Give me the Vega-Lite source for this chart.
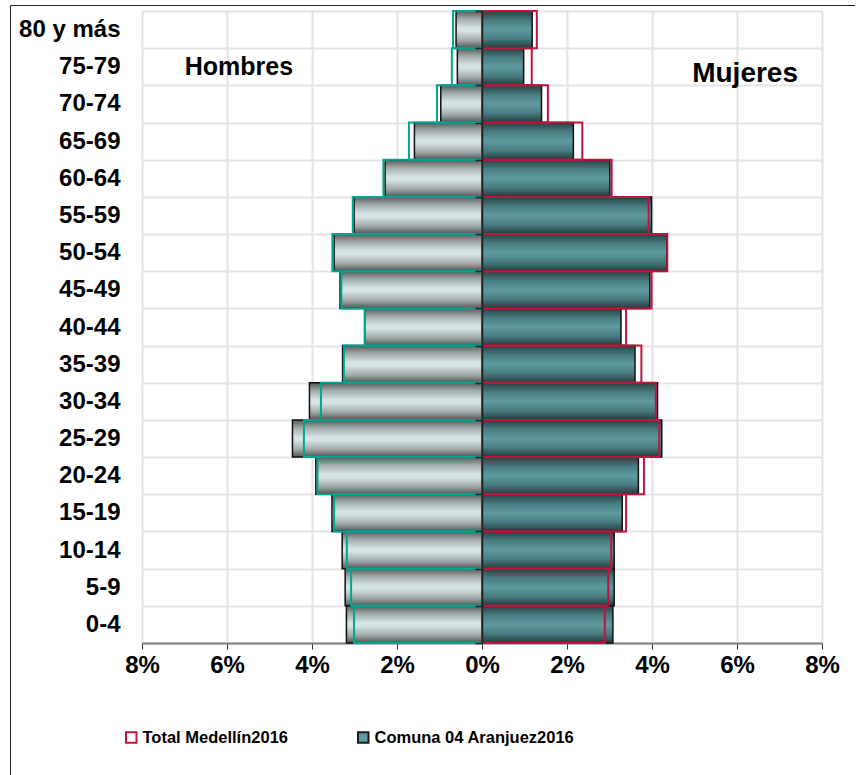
{
  "$schema": "https://vega.github.io/schema/vega-lite/v6.json",
  "width": 845,
  "height": 780,
  "autosize": {"type": "none"},
  "padding": {"left": 10, "top": 5, "right": 0, "bottom": 0},
  "background": "white",
  "config": {"view": {"stroke": "#222", "strokeWidth": 1}, "font": "Liberation Sans"},
  "datasets": {
    "pyr": [
      {"sexo": "Hombres", "serie": "Comuna 04 Aranjuez2016", "edad": "80 y más", "valor": -0.61},
      {"sexo": "Hombres", "serie": "Comuna 04 Aranjuez2016", "edad": "75-79", "valor": -0.58},
      {"sexo": "Hombres", "serie": "Comuna 04 Aranjuez2016", "edad": "70-74", "valor": -0.97},
      {"sexo": "Hombres", "serie": "Comuna 04 Aranjuez2016", "edad": "65-69", "valor": -1.59},
      {"sexo": "Hombres", "serie": "Comuna 04 Aranjuez2016", "edad": "60-64", "valor": -2.28},
      {"sexo": "Hombres", "serie": "Comuna 04 Aranjuez2016", "edad": "55-59", "valor": -3.01},
      {"sexo": "Hombres", "serie": "Comuna 04 Aranjuez2016", "edad": "50-54", "valor": -3.48},
      {"sexo": "Hombres", "serie": "Comuna 04 Aranjuez2016", "edad": "45-49", "valor": -3.34},
      {"sexo": "Hombres", "serie": "Comuna 04 Aranjuez2016", "edad": "40-44", "valor": -2.76},
      {"sexo": "Hombres", "serie": "Comuna 04 Aranjuez2016", "edad": "35-39", "valor": -3.28},
      {"sexo": "Hombres", "serie": "Comuna 04 Aranjuez2016", "edad": "30-34", "valor": -4.06},
      {"sexo": "Hombres", "serie": "Comuna 04 Aranjuez2016", "edad": "25-29", "valor": -4.46},
      {"sexo": "Hombres", "serie": "Comuna 04 Aranjuez2016", "edad": "20-24", "valor": -3.91},
      {"sexo": "Hombres", "serie": "Comuna 04 Aranjuez2016", "edad": "15-19", "valor": -3.53},
      {"sexo": "Hombres", "serie": "Comuna 04 Aranjuez2016", "edad": "10-14", "valor": -3.29},
      {"sexo": "Hombres", "serie": "Comuna 04 Aranjuez2016", "edad": "5-9", "valor": -3.22},
      {"sexo": "Hombres", "serie": "Comuna 04 Aranjuez2016", "edad": "0-4", "valor": -3.19},
      {"sexo": "Hombres", "serie": "Total Medellín2016", "edad": "80 y más", "valor": -0.68},
      {"sexo": "Hombres", "serie": "Total Medellín2016", "edad": "75-79", "valor": -0.71},
      {"sexo": "Hombres", "serie": "Total Medellín2016", "edad": "70-74", "valor": -1.06},
      {"sexo": "Hombres", "serie": "Total Medellín2016", "edad": "65-69", "valor": -1.72},
      {"sexo": "Hombres", "serie": "Total Medellín2016", "edad": "60-64", "valor": -2.32},
      {"sexo": "Hombres", "serie": "Total Medellín2016", "edad": "55-59", "valor": -3.04},
      {"sexo": "Hombres", "serie": "Total Medellín2016", "edad": "50-54", "valor": -3.52},
      {"sexo": "Hombres", "serie": "Total Medellín2016", "edad": "45-49", "valor": -3.31},
      {"sexo": "Hombres", "serie": "Total Medellín2016", "edad": "40-44", "valor": -2.76},
      {"sexo": "Hombres", "serie": "Total Medellín2016", "edad": "35-39", "valor": -3.25},
      {"sexo": "Hombres", "serie": "Total Medellín2016", "edad": "30-34", "valor": -3.79},
      {"sexo": "Hombres", "serie": "Total Medellín2016", "edad": "25-29", "valor": -4.19},
      {"sexo": "Hombres", "serie": "Total Medellín2016", "edad": "20-24", "valor": -3.87},
      {"sexo": "Hombres", "serie": "Total Medellín2016", "edad": "15-19", "valor": -3.48},
      {"sexo": "Hombres", "serie": "Total Medellín2016", "edad": "10-14", "valor": -3.18},
      {"sexo": "Hombres", "serie": "Total Medellín2016", "edad": "5-9", "valor": -3.08},
      {"sexo": "Hombres", "serie": "Total Medellín2016", "edad": "0-4", "valor": -3.01},
      {"sexo": "Mujeres", "serie": "Comuna 04 Aranjuez2016", "edad": "80 y más", "valor": 1.18},
      {"sexo": "Mujeres", "serie": "Comuna 04 Aranjuez2016", "edad": "75-79", "valor": 0.98},
      {"sexo": "Mujeres", "serie": "Comuna 04 Aranjuez2016", "edad": "70-74", "valor": 1.40},
      {"sexo": "Mujeres", "serie": "Comuna 04 Aranjuez2016", "edad": "65-69", "valor": 2.15},
      {"sexo": "Mujeres", "serie": "Comuna 04 Aranjuez2016", "edad": "60-64", "valor": 3.01},
      {"sexo": "Mujeres", "serie": "Comuna 04 Aranjuez2016", "edad": "55-59", "valor": 3.99},
      {"sexo": "Mujeres", "serie": "Comuna 04 Aranjuez2016", "edad": "50-54", "valor": 4.35},
      {"sexo": "Mujeres", "serie": "Comuna 04 Aranjuez2016", "edad": "45-49", "valor": 3.95},
      {"sexo": "Mujeres", "serie": "Comuna 04 Aranjuez2016", "edad": "40-44", "valor": 3.27},
      {"sexo": "Mujeres", "serie": "Comuna 04 Aranjuez2016", "edad": "35-39", "valor": 3.60},
      {"sexo": "Mujeres", "serie": "Comuna 04 Aranjuez2016", "edad": "30-34", "valor": 4.13},
      {"sexo": "Mujeres", "serie": "Comuna 04 Aranjuez2016", "edad": "25-29", "valor": 4.23},
      {"sexo": "Mujeres", "serie": "Comuna 04 Aranjuez2016", "edad": "20-24", "valor": 3.68},
      {"sexo": "Mujeres", "serie": "Comuna 04 Aranjuez2016", "edad": "15-19", "valor": 3.30},
      {"sexo": "Mujeres", "serie": "Comuna 04 Aranjuez2016", "edad": "10-14", "valor": 3.11},
      {"sexo": "Mujeres", "serie": "Comuna 04 Aranjuez2016", "edad": "5-9", "valor": 3.11},
      {"sexo": "Mujeres", "serie": "Comuna 04 Aranjuez2016", "edad": "0-4", "valor": 3.08},
      {"sexo": "Mujeres", "serie": "Total Medellín2016", "edad": "80 y más", "valor": 1.29},
      {"sexo": "Mujeres", "serie": "Total Medellín2016", "edad": "75-79", "valor": 1.17},
      {"sexo": "Mujeres", "serie": "Total Medellín2016", "edad": "70-74", "valor": 1.55},
      {"sexo": "Mujeres", "serie": "Total Medellín2016", "edad": "65-69", "valor": 2.36},
      {"sexo": "Mujeres", "serie": "Total Medellín2016", "edad": "60-64", "valor": 3.05},
      {"sexo": "Mujeres", "serie": "Total Medellín2016", "edad": "55-59", "valor": 3.92},
      {"sexo": "Mujeres", "serie": "Total Medellín2016", "edad": "50-54", "valor": 4.36},
      {"sexo": "Mujeres", "serie": "Total Medellín2016", "edad": "45-49", "valor": 3.99},
      {"sexo": "Mujeres", "serie": "Total Medellín2016", "edad": "40-44", "valor": 3.39},
      {"sexo": "Mujeres", "serie": "Total Medellín2016", "edad": "35-39", "valor": 3.75},
      {"sexo": "Mujeres", "serie": "Total Medellín2016", "edad": "30-34", "valor": 4.09},
      {"sexo": "Mujeres", "serie": "Total Medellín2016", "edad": "25-29", "valor": 4.17},
      {"sexo": "Mujeres", "serie": "Total Medellín2016", "edad": "20-24", "valor": 3.81},
      {"sexo": "Mujeres", "serie": "Total Medellín2016", "edad": "15-19", "valor": 3.39},
      {"sexo": "Mujeres", "serie": "Total Medellín2016", "edad": "10-14", "valor": 3.04},
      {"sexo": "Mujeres", "serie": "Total Medellín2016", "edad": "5-9", "valor": 2.97},
      {"sexo": "Mujeres", "serie": "Total Medellín2016", "edad": "0-4", "valor": 2.89}
    ],
    "leyenda": [
      {"serie": "Total Medellín2016"},
      {"serie": "Comuna 04 Aranjuez2016"}
    ],
    "rotulos": [
      {"rotulo": "Hombres", "edad": "75-79", "pos": -5.72}
    ],
    "rotulos2": [
      {"rotulo": "Mujeres", "edad": "75-79", "pos": 6.19}
    ]
  },
  "data": {"name": "pyr"},
  "layer": [
    {
      "transform": [{"filter": "datum.sexo === 'Hombres' && datum.serie === 'Comuna 04 Aranjuez2016'"}],
      "mark": {
        "type": "bar",
        "fill": {"gradient": "linear", "x1": 0, "y1": 0, "x2": 0, "y2": 1,
          "stops": [
            {"offset": 0, "color": "#555959"},
            {"offset": 0.2, "color": "#9ea6a6"},
            {"offset": 0.45, "color": "#d5e3e3"},
            {"offset": 0.55, "color": "#d5e3e3"},
            {"offset": 0.8, "color": "#9ea6a6"},
            {"offset": 1, "color": "#4f5353"}
          ]},
        "stroke": "#111",
        "strokeWidth": 1.5
      },
      "encoding": {
        "y": {
          "field": "edad", "type": "nominal",
          "scale": {
            "domain": ["80 y más", "75-79", "70-74", "65-69", "60-64", "55-59", "50-54", "45-49", "40-44", "35-39", "30-34", "25-29", "20-24", "15-19", "10-14", "5-9", "0-4"],
            "range": [6, 638], "paddingInner": 0, "paddingOuter": 0
          },
          "axis": {
            "orient": "left", "title": null, "offset": -132, "domain": false, "ticks": false,
            "labelPadding": 22, "labelFont": "Liberation Sans", "labelFontSize": 24,
            "labelFontWeight": "bold", "labelColor": "black", "labelAngle": 0,
            "grid": true, "gridColor": "#e4e4e4", "gridWidth": 2, "tickBand": "extent"
          }
        },
        "x": {
          "field": "valor", "type": "quantitative",
          "scale": {"domain": [-8, 8], "range": [132, 812], "nice": false},
          "axis": {
            "orient": "bottom", "title": null, "values": [-8, -6, -4, -2, 0, 2, 4, 6, 8],
            "labelExpr": "abs(datum.value) + '%'", "offset": -142,
            "domainColor": "#7f7f7f", "domainWidth": 2, "tickColor": "#333",
            "tickSize": 6, "tickWidth": 1, "labelFont": "Liberation Sans",
            "labelFontSize": 24, "labelFontWeight": "bold", "labelColor": "black",
            "labelPadding": 4, "labelFlush": false, "labelOverlap": false,
            "grid": false
          }
        }
      }
    },
    {
      "transform": [{"filter": "datum.sexo === 'Mujeres' && datum.serie === 'Comuna 04 Aranjuez2016'"}],
      "mark": {
        "type": "bar",
        "fill": {"gradient": "linear", "x1": 0, "y1": 0, "x2": 0, "y2": 1,
          "stops": [
            {"offset": 0, "color": "#283f41"},
            {"offset": 0.25, "color": "#487c80"},
            {"offset": 0.5, "color": "#5e9b9f"},
            {"offset": 0.75, "color": "#487c80"},
            {"offset": 1, "color": "#243a3c"}
          ]},
        "stroke": "#111",
        "strokeWidth": 1.5
      },
      "encoding": {
        "y": {
          "field": "edad", "type": "nominal",
          "axis": {
            "orient": "left", "title": null, "offset": -472, "domain": true,
            "domainColor": "#222", "domainWidth": 1.5, "ticks": true, "tickColor": "#222",
            "tickSize": 7, "tickWidth": 1.5, "tickBand": "extent", "labels": false,
            "grid": false, "zindex": 1
          }
        },
        "x": {
          "field": "valor", "type": "quantitative",
          "axis": {
            "orient": "top", "title": null, "values": [-8, -6, -4, -2, 0, 2, 4, 6, 8],
            "domain": false, "ticks": false, "labels": false,
            "grid": true, "gridColor": "#e4e4e4", "gridWidth": 2
          }
        }
      }
    },
    {
      "transform": [{"filter": "datum.sexo === 'Hombres' && datum.serie === 'Total Medellín2016'"}],
      "mark": {"type": "bar", "fill": "transparent", "stroke": "#00a690", "strokeWidth": 2},
      "encoding": {
        "y": {"field": "edad", "type": "nominal", "axis": null},
        "x": {"field": "valor", "type": "quantitative", "axis": null}
      }
    },
    {
      "transform": [{"filter": "datum.sexo === 'Mujeres' && datum.serie === 'Total Medellín2016'"}],
      "mark": {"type": "bar", "fill": "transparent", "stroke": "#c0143c", "strokeWidth": 2},
      "encoding": {
        "y": {"field": "edad", "type": "nominal", "axis": null},
        "x": {"field": "valor", "type": "quantitative", "axis": null}
      }
    },
    {
      "data": {"name": "rotulos"},
      "mark": {"type": "text", "font": "Liberation Sans", "fontSize": 25, "fontWeight": "bold", "color": "black", "align": "center", "baseline": "middle"},
      "encoding": {
        "y": {"field": "edad", "type": "nominal", "axis": null},
        "x": {"field": "pos", "type": "quantitative", "axis": null},
        "text": {"field": "rotulo"}
      }
    },
    {
      "data": {"name": "rotulos2"},
      "mark": {"type": "text", "font": "Liberation Sans", "fontSize": 28, "fontWeight": "bold", "color": "black", "align": "center", "baseline": "middle", "dy": 7},
      "encoding": {
        "y": {"field": "edad", "type": "nominal", "axis": null},
        "x": {"field": "pos", "type": "quantitative", "axis": null},
        "text": {"field": "rotulo"}
      }
    },
    {
      "data": {"name": "leyenda"},
      "mark": {"type": "square", "opacity": 0},
      "encoding": {
        "fill": {
          "field": "serie", "type": "nominal",
          "scale": {"domain": ["Total Medellín2016", "Comuna 04 Aranjuez2016"], "range": ["white", "#5b9a9e"]},
          "legend": {
            "orient": "none", "legendX": 113, "legendY": 724, "direction": "horizontal",
            "columns": 2, "columnPadding": 66, "title": null, "symbolType": "square",
            "symbolSize": 110, "symbolStrokeWidth": 2, "symbolOpacity": 1,
            "labelFont": "Liberation Sans", "labelFontSize": 16.5, "labelFontWeight": "bold",
            "labelColor": "black", "labelOffset": 3, "labelLimit": 400, "padding": 0
          }
        },
        "stroke": {
          "field": "serie", "type": "nominal",
          "scale": {"domain": ["Total Medellín2016", "Comuna 04 Aranjuez2016"], "range": ["#c0143c", "#1a1a1a"]},
          "legend": {
            "orient": "none", "legendX": 113, "legendY": 724, "direction": "horizontal",
            "columns": 2, "columnPadding": 66, "title": null, "symbolType": "square",
            "symbolSize": 110, "symbolStrokeWidth": 2, "symbolOpacity": 1,
            "labelFont": "Liberation Sans", "labelFontSize": 16.5, "labelFontWeight": "bold",
            "labelColor": "black", "labelOffset": 3, "labelLimit": 400, "padding": 0
          }
        }
      }
    }
  ],
  "resolve": {"axis": {"x": "independent", "y": "independent"}}
}
